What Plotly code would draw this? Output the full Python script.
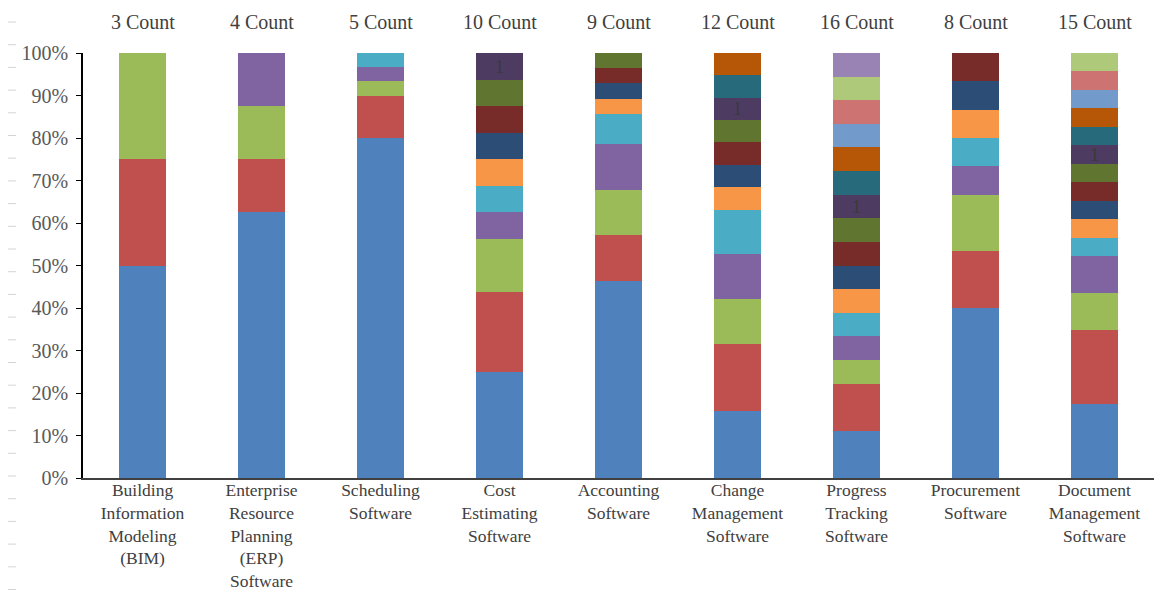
import plotly.graph_objects as go

# Software categories (x axis), line-broken as in the report
categories = [
    "Building<br>Information<br>Modeling<br>(BIM)",
    "Enterprise<br>Resource<br>Planning<br>(ERP)<br>Software",
    "Scheduling<br>Software",
    "Cost<br>Estimating<br>Software",
    "Accounting<br>Software",
    "Change<br>Management<br>Software",
    "Progress<br>Tracking<br>Software",
    "Procurement<br>Software",
    "Document<br>Management<br>Software",
]

# Response counts per option, stacked bottom to top, for each category
bim_counts = [2, 1, 1]
erp_counts = [5, 1, 1, 1]
scheduling_counts = [24, 3, 1, 1, 1]
cost_estimating_counts = [4, 3, 2, 1, 1, 1, 1, 1, 1, 1]
accounting_counts = [13, 3, 3, 3, 2, 1, 1, 1, 1]
change_mgmt_counts = [3, 3, 2, 2, 2, 1, 1, 1, 1, 1, 1, 1]
progress_tracking_counts = [2, 2, 1, 1, 1, 1, 1, 1, 1, 1, 1, 1, 1, 1, 1, 1]
procurement_counts = [6, 2, 2, 1, 1, 1, 1, 1]
document_mgmt_counts = [4, 4, 2, 2, 1, 1, 1, 1, 1, 1, 1, 1, 1, 1, 1]

category_counts = [
    bim_counts, erp_counts, scheduling_counts, cost_estimating_counts,
    accounting_counts, change_mgmt_counts, progress_tracking_counts,
    procurement_counts, document_mgmt_counts,
]

# Percent axis ticks
percent_ticks = [0, 10, 20, 30, 40, 50, 60, 70, 80, 90, 100]

# Office-style series palette
series_colors = [
    "#4F81BD", "#C0504D", "#9BBB59", "#8064A2", "#4BACC6", "#F79646",
    "#2C4D75", "#772C2A", "#5F7530", "#4D3B62", "#276A7C", "#B65708",
    "#729ACA", "#CD7371", "#AFC97A", "#9983B5",
]
labelled_series = 9  # the 10th series carries value labels

SERIF = "Liberation Serif"

fig = go.Figure()
n_series = max(len(c) for c in category_counts)
for i in range(n_series):
    vals = [c[i] if i < len(c) else None for c in category_counts]
    trace = dict(
        x=categories,
        y=vals,
        name=f"Series {i + 1}",
        marker=dict(color=series_colors[i], line=dict(width=0)),
        hoverinfo="skip",
    )
    if i == labelled_series:
        trace.update(
            text=[str(v) if v is not None else "" for v in vals],
            textposition="inside",
            insidetextanchor="middle",
            textangle=0,
            constraintext="none",
            textfont=dict(family=SERIF, size=19, color="#3a3a3a"),
        )
    fig.add_trace(go.Bar(**trace))

# "N Count" header above each bar: number of answer options present
for cat, counts in zip(categories, category_counts):
    fig.add_annotation(
        x=cat, xref="x", y=1.072, yref="paper",
        text=f"{len(counts)} Count", showarrow=False,
        font=dict(family=SERIF, size=20, color="#404040"),
        yanchor="middle",
    )

# faint dashes along the left margin
plot_left, plot_w, plot_bottom, plot_h = 83, 1071, 478, 425
dash_y = 22.0
while dash_y <= 592:
    yp = (plot_bottom - dash_y) / plot_h
    fig.add_shape(
        type="line", xref="paper", yref="paper",
        x0=(8 - plot_left) / plot_w, x1=(16 - plot_left) / plot_w,
        y0=yp, y1=yp, line=dict(color="#d4d4d4", width=1),
    )
    dash_y += 22.7

fig.update_layout(
    barmode="stack",
    barnorm="percent",
    bargap=0.6,
    width=1154,
    height=593,
    margin=dict(l=83, r=0, t=53, b=115, autoexpand=False),
    paper_bgcolor="white",
    plot_bgcolor="white",
    showlegend=False,
    font=dict(family=SERIF),
)
fig.update_yaxes(
    range=[0, 100],
    tickmode="array",
    tickvals=percent_ticks,
    ticktext=[f"{v}%" for v in percent_ticks],
    showgrid=False,
    zeroline=False,
    showline=True,
    linecolor="#000000",
    linewidth=1.5,
    ticks="outside",
    ticklen=5,
    tickcolor="#000000",
    ticklabelstandoff=4,
    automargin=False,
    tickfont=dict(family=SERIF, size=20, color="#595959"),
)
fig.update_xaxes(
    showgrid=False,
    showline=True,
    linecolor="#404040",
    linewidth=2,
    ticks="",
    tickangle=0,
    ticklabelstandoff=-5,
    automargin=False,
    tickfont=dict(family=SERIF, size=17.5, color="#404040"),
)

fig.write_html("out.html")
